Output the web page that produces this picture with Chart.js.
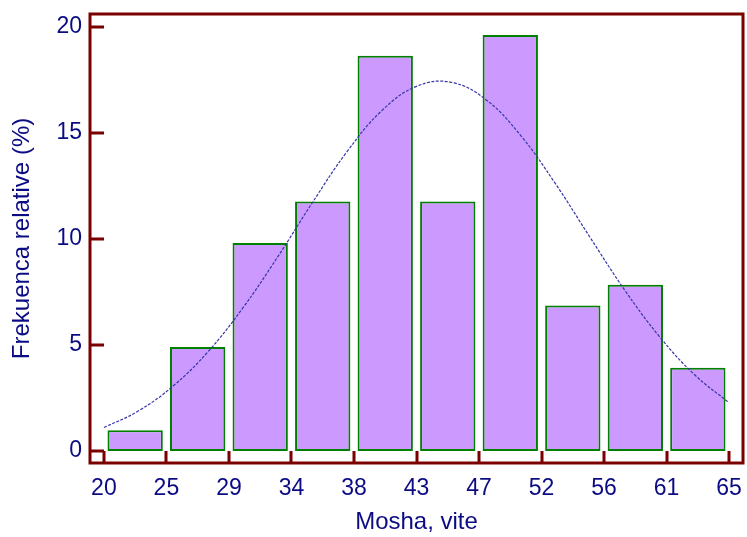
<!DOCTYPE html>
<html>
<head>
<meta charset="utf-8">
<script src="https://cdn.jsdelivr.net/npm/chart.js@4/dist/chart.umd.min.js"></script>
<style>
  html, body { margin: 0; padding: 0; background: #fff; }
  #wrap { width: 747px; height: 537px; }
</style>
</head>
<body>
<div id="wrap"><canvas id="chart" width="747" height="537"></canvas></div>
<script>
// bin edges (age, years) and their printed labels
const binEdges = [20, 24.5, 29, 33.5, 38, 42.5, 47, 51.5, 56, 60.5, 65];
const xTickLabels = ['20', '25', '29', '34', '38', '43', '47', '52', '56', '61', '65'];
// relative frequency per bin (%)
const freqValues = [0.98, 4.90, 9.80, 11.76, 18.63, 11.76, 19.61, 6.86, 7.84, 3.92];
const yTickValues = [0, 5, 10, 15, 20];

// fitted normal curve
const curveX = [20, 22.5, 25, 27.5, 30, 32.5, 35, 37.5, 40, 42.5, 45, 47.5, 50, 52.5, 55, 57.5, 60, 62.5, 65];
const curveY = [1.10, 1.89, 3.07, 4.68, 6.74, 9.14, 11.70, 14.11, 16.04, 17.19, 17.38, 16.56, 14.87, 12.60, 10.06, 7.57, 5.38, 3.60, 2.27];

const NAVY = '#0b0b84';
const MAROON = '#7a0000';
const FONT = '"Liberation Sans", Arial, sans-serif';

const barPoints = freqValues.map((v, i) => ({ x: (binEdges[i] + binEdges[i + 1]) / 2, y: v }));
const curvePoints = curveX.map((x, i) => ({ x, y: curveY[i] }));

// frame around the plot plus tick marks pointing inwards
const framePlugin = {
    id: 'frame',
    afterDraw(chart) {
        const { ctx, chartArea: a, scales } = chart;
        ctx.save();
        ctx.strokeStyle = MAROON;
        ctx.lineWidth = 3;
        ctx.beginPath();
        yTickValues.forEach((v) => {
            const y = Math.round(scales.y.getPixelForValue(v));
            ctx.moveTo(a.left, y);
            ctx.lineTo(a.left + 14, y);
        });
        binEdges.forEach((v) => {
            const x = Math.round(scales.x.getPixelForValue(v));
            ctx.moveTo(x, a.bottom);
            ctx.lineTo(x, a.bottom - 12);
        });
        ctx.stroke();
        ctx.strokeRect(a.left, a.top, a.right - a.left, a.bottom - a.top);
        ctx.restore();
    }
};

// keep the plot box fixed: no extra room for overhanging labels
const noLabelPadding = (s) => {
    s.paddingTop = 0;
    s.paddingBottom = 0;
    s.paddingLeft = 0;
    s.paddingRight = 0;
};

new Chart(document.getElementById('chart').getContext('2d'), {
    data: {
        datasets: [
            {
                type: 'line',
                data: curvePoints,
                borderColor: '#3636a6',
                borderWidth: 1.2,
                borderDash: [3, 1.5],
                pointRadius: 0,
                tension: 0.4,
                fill: false,
                order: 0
            },
            {
                type: 'bar',
                data: barPoints,
                backgroundColor: '#cc99ff',
                borderColor: '#008000',
                borderWidth: 2,
                borderSkipped: false,
                barPercentage: 0.885,
                categoryPercentage: 1,
                order: 1
            }
        ]
    },
    options: {
        responsive: false,
        animation: false,
        layout: { padding: { left: 0, top: 14, right: 4, bottom: 0 } },
        plugins: { legend: { display: false }, tooltip: { enabled: false } },
        scales: {
            x: {
                type: 'linear',
                offset: false,
                min: 19,
                max: 66,
                afterBuildTicks: (s) => { s.ticks = binEdges.map((v) => ({ value: v })); },
                afterFit: (s) => { s.height = 74; noLabelPadding(s); },
                grid: { display: false, drawTicks: false, offset: false },
                border: { display: false },
                ticks: {
                    autoSkip: false,
                    maxRotation: 0,
                    padding: 12,
                    color: NAVY,
                    font: { family: FONT, size: 23 },
                    callback: (v, i) => xTickLabels[i]
                },
                title: {
                    display: true,
                    text: 'Mosha, vite',
                    color: NAVY,
                    font: { family: FONT, size: 24 },
                    padding: { top: 0, bottom: 0 }
                }
            },
            y: {
                min: -0.57,
                max: 20.6,
                afterBuildTicks: (s) => { s.ticks = yTickValues.map((v) => ({ value: v })); },
                afterFit: (s) => { s.width = 90; noLabelPadding(s); },
                grid: { display: false, drawTicks: false },
                border: { display: false },
                ticks: {
                    padding: 8,
                    color: NAVY,
                    font: { family: FONT, size: 23 }
                },
                title: {
                    display: true,
                    text: 'Frekuenca relative (%)',
                    color: NAVY,
                    font: { family: FONT, size: 24 },
                    padding: { top: 8, bottom: 0 }
                }
            }
        }
    },
    plugins: [framePlugin]
});
</script>
</body>
</html>
